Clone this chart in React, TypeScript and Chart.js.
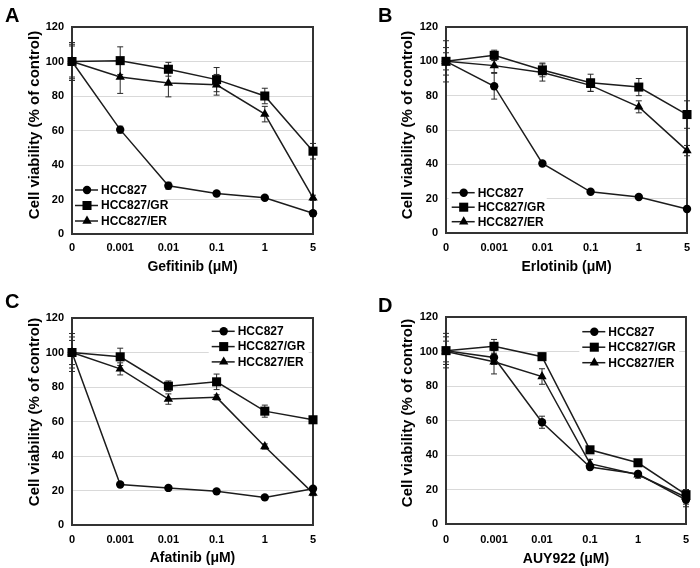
import React, { useEffect, useRef } from 'react';
import { Chart, registerables } from 'chart.js';

Chart.register(...registerables);

const FONT = '"Liberation Sans", Arial, Helvetica, sans-serif';
Chart.defaults.font.family = FONT;

// ---------- data ----------
const xLabels = ['0', '0.001', '0.01', '0.1', '1', '5'];
const seriesNames = ['HCC827', 'HCC827/GR', 'HCC827/ER'];

// A: Gefitinib
const gefHCC = [100, 60.5, 28, 23.5, 21, 12];
const gefHCCErr = [10, 2, 2, 1, 1, 1.5];
const gefGR = [100, 100.5, 95.5, 89.5, 80, 48];
const gefGRErr = [11, 8, 4, 7, 4.5, 4.5];
const gefER = [100, 91, 87.5, 86.5, 69.5, 21];
const gefERErr = [9, 9.5, 8, 6, 4.5, 1.5];

// B: Erlotinib
const erlHCC = [100, 85.5, 40.5, 24, 21, 14];
const erlHCCErr = [12, 7.5, 1, 1, 1, 1.5];
const erlGR = [100, 103.5, 95, 87.5, 85, 69];
const erlGRErr = [5, 3, 4, 5, 5, 8];
const erlER = [100, 97.5, 93.5, 86, 73.5, 48];
const erlERErr = [8, 4, 5, 3.5, 3.5, 3];

// C: Afatinib
const afaHCC = [100, 23.5, 21.5, 19.5, 16, 21];
const afaHCCErr = [11, 1, 1, 1, 1, 1];
const afaGR = [100, 97.5, 80.5, 83, 66, 61];
const afaGRErr = [9, 5, 3, 4.5, 3.5, 1.5];
const afaER = [100, 90.5, 73, 74, 45.5, 18.5];
const afaERErr = [7, 3.5, 3, 1.5, 1.5, 1.5];

// D: AUY922
const auyHCC = [100.5, 96.5, 59, 33, 29, 14];
const auyHCCErr = [10, 4, 3.5, 1.5, 1.5, 4];
const auyGR = [100.5, 103, 97, 43, 35.5, 17];
const auyGRErr = [8, 4, 2, 1, 1, 3];
const auyER = [100, 94, 85.5, 35, 28.5, 15.5];
const auyERErr = [6, 7, 4.5, 2.5, 2, 4];

const yTitle = 'Cell viability (% of control)';

// ---------- styles ----------
const LINE = '#1c1c1c';
const MARK = '#000000';
const GRID = '#d9d9d9';
const FRAME = '#333333';
const pointStyles = ['circle', 'rect', 'triangle'] as const;
const pointRadii = [4.2, 6.4, 5.4];

type Panel = {
  letter: string;
  left: number;
  top: number;
  drug: string;
  values: number[][];
  errors: number[][];
  yW: number;
  padR: number;
  padT: number;
  xH: number;
  tickPad: number;
  titlePad: number;
  yTitleX: number;
  yTitleY: number;
  legX: number;
  legY: number;
  legGap: number;
  legW: number;
  letterLeft: number;
  letterTop: number;
};

const panels: Panel[] = [
  {
    letter: 'A', left: 0, top: 0, drug: 'Gefitinib',
    values: [gefHCC, gefGR, gefER], errors: [gefHCCErr, gefGRErr, gefERErr],
    yW: 72, padR: 37, padT: 27, xH: 50, tickPad: 7.4, titlePad: 8.6,
    yTitleX: 35, yTitleY: 125, legX: 75, legY: 190, legGap: 15.5, legW: 92,
    letterLeft: 5, letterTop: 5,
  },
  {
    letter: 'B', left: 350, top: 0, drug: 'Erlotinib',
    values: [erlHCC, erlGR, erlER], errors: [erlHCCErr, erlGRErr, erlERErr],
    yW: 96, padR: 13, padT: 27, xH: 51, tickPad: 8.7, titlePad: 8.9,
    yTitleX: 58, yTitleY: 125, legX: 101.7, legY: 192.7, legGap: 14.5, legW: 98,
    letterLeft: 378, letterTop: 5,
  },
  {
    letter: 'C', left: 0, top: 284, drug: 'Afatinib',
    values: [afaHCC, afaGR, afaER], errors: [afaHCCErr, afaGRErr, afaERErr],
    yW: 72, padR: 37, padT: 34, xH: 43, tickPad: 8.4, titlePad: 1.6,
    yTitleX: 35, yTitleY: 128, legX: 211.7, legY: 47.3, legGap: 15.3, legW: 100,
    letterLeft: 5, letterTop: 291,
  },
  {
    letter: 'D', left: 350, top: 284, drug: 'AUY922',
    values: [auyHCC, auyGR, auyER], errors: [auyHCCErr, auyGRErr, auyERErr],
    yW: 96, padR: 14, padT: 33, xH: 44, tickPad: 9.4, titlePad: 0,
    yTitleX: 58, yTitleY: 129, legX: 232.3, legY: 47.7, legGap: 15.5, legW: 100,
    letterLeft: 378, letterTop: 294.5,
  },
];

function drawMarker(ctx: CanvasRenderingContext2D, style: string, r: number, x: number, y: number) {
  ctx.beginPath();
  if (style === 'circle') {
    ctx.arc(x, y, r, 0, Math.PI * 2);
  } else if (style === 'rect') {
    const s = r * Math.SQRT1_2;
    ctx.rect(x - s, y - s, 2 * s, 2 * s);
  } else {
    let rad = 0;
    ctx.moveTo(x + Math.sin(rad) * r, y - Math.cos(rad) * r);
    rad += (2 * Math.PI) / 3;
    ctx.lineTo(x + Math.sin(rad) * r, y - Math.cos(rad) * r);
    rad += (2 * Math.PI) / 3;
    ctx.lineTo(x + Math.sin(rad) * r, y - Math.cos(rad) * r);
    ctx.closePath();
  }
  ctx.fill();
}

function makePlugin(p: Panel) {
  return {
    id: 'panelExtras' + p.letter,
    beforeDatasetsDraw(chart: any) {
      const ctx: CanvasRenderingContext2D = chart.ctx;
      const xs = chart.scales.x;
      const ys = chart.scales.y;
      const a = chart.chartArea;
      ctx.save();
      // legend background (under the data lines)
      ctx.fillStyle = '#ffffff';
      ctx.fillRect(p.legX - 3, p.legY - 9, p.legW, p.legGap * 2 + 18);
      // frame
      ctx.strokeStyle = FRAME;
      ctx.lineWidth = 2;
      ctx.strokeRect(a.left, a.top, a.right - a.left, a.bottom - a.top);
      // error bars
      ctx.strokeStyle = '#2a2a2a';
      ctx.lineWidth = 1;
      p.errors.forEach((errs, di) => {
        p.values[di].forEach((v, i) => {
          const e = errs[i];
          if (!e) return;
          const x = xs.getPixelForValue(i);
          const y1 = ys.getPixelForValue(v + e);
          const y2 = ys.getPixelForValue(v - e);
          ctx.beginPath();
          ctx.moveTo(x, y1);
          ctx.lineTo(x, y2);
          ctx.moveTo(x - 3, y1);
          ctx.lineTo(x + 3, y1);
          ctx.moveTo(x - 3, y2);
          ctx.lineTo(x + 3, y2);
          ctx.stroke();
        });
      });
      ctx.restore();
    },
    afterDraw(chart: any) {
      const ctx: CanvasRenderingContext2D = chart.ctx;
      ctx.save();
      // y title
      ctx.translate(p.yTitleX, p.yTitleY);
      ctx.rotate(-Math.PI / 2);
      ctx.font = `bold 15px ${FONT}`;
      ctx.fillStyle = '#000';
      ctx.textAlign = 'center';
      ctx.textBaseline = 'middle';
      ctx.fillText(yTitle, 0, 0);
      ctx.restore();

      // legend entries
      ctx.save();
      ctx.font = `bold 12px ${FONT}`;
      ctx.textAlign = 'left';
      ctx.textBaseline = 'middle';
      seriesNames.forEach((name, i) => {
        const y = p.legY + i * p.legGap;
        ctx.strokeStyle = LINE;
        ctx.lineWidth = 1.5;
        ctx.beginPath();
        ctx.moveTo(p.legX, y);
        ctx.lineTo(p.legX + 23, y);
        ctx.stroke();
        ctx.fillStyle = MARK;
        drawMarker(ctx, pointStyles[i], pointRadii[i], p.legX + 12, y);
        ctx.fillStyle = '#000';
        ctx.fillText(name, p.legX + 26, y + 0.5);
      });
      ctx.restore();
    },
  };
}

function PanelChart({ p }: { p: Panel }) {
  const ref = useRef<HTMLCanvasElement>(null);
  useEffect(() => {
    const canvas = ref.current;
    if (!canvas) return;
    const chart = new Chart(canvas, {
      type: 'line',
      data: {
        labels: xLabels,
        datasets: p.values.map((vals, i) => ({
          label: seriesNames[i],
          data: vals,
          borderColor: LINE,
          backgroundColor: MARK,
          borderWidth: 1.5,
          pointStyle: pointStyles[i],
          pointRadius: pointRadii[i],
          pointHoverRadius: pointRadii[i],
          pointBackgroundColor: MARK,
          pointBorderColor: MARK,
          pointBorderWidth: 0,
          tension: 0,
          clip: false as any,
        })),
      },
      options: {
        animation: false,
        responsive: false,
        devicePixelRatio: 1,
        events: [],
        layout: { padding: { left: 0, right: p.padR, top: p.padT, bottom: 0 } },
        plugins: {
          legend: { display: false },
          tooltip: { enabled: false },
          title: { display: false },
        },
        scales: {
          x: {
            type: 'category',
            offset: false,
            grid: { display: false, drawTicks: false },
            border: { display: false },
            ticks: {
              color: '#000',
              padding: p.tickPad,
              autoSkip: false,
              maxRotation: 0,
              font: { size: 11, weight: 'bold', family: FONT },
            },
            title: {
              display: true,
              text: `${p.drug} (μM)`,
              color: '#000',
              font: { size: 14, weight: 'bold', family: FONT },
              padding: { top: 0, bottom: p.titlePad },
            },
            afterFit: (s: any) => {
              s.height = p.xH;
              s.paddingLeft = 0;
              s.paddingRight = 0;
              s.paddingTop = 0;
              s.paddingBottom = 0;
            },
          },
          y: {
            type: 'linear',
            min: 0,
            max: 120,
            grid: {
              drawTicks: false,
              color: (c: any) =>
                c.tick && (c.tick.value === 0 || c.tick.value === 120) ? 'rgba(0,0,0,0)' : GRID,
              lineWidth: 1,
            },
            border: { display: false },
            ticks: {
              stepSize: 20,
              color: '#000',
              padding: 8,
              font: { size: 11, weight: 'bold', family: FONT },
            },
            afterFit: (s: any) => {
              s.width = p.yW;
              s.paddingLeft = 0;
              s.paddingRight = 0;
              s.paddingTop = 0;
              s.paddingBottom = 0;
            },
          },
        },
      } as any,
      plugins: [makePlugin(p)],
    });
    return () => chart.destroy();
  }, [p]);
  return (
    <canvas
      ref={ref}
      width={350}
      height={284}
      style={{ position: 'absolute', left: p.left, top: p.top, width: 350, height: 284 }}
    />
  );
}

export default function App() {
  return (
    <div
      style={{
        position: 'absolute',
        left: 0,
        top: 0,
        width: 700,
        height: 568,
        background: '#ffffff',
        overflow: 'hidden',
        fontFamily: FONT,
      }}
    >
      {panels.map((p) => (
        <PanelChart key={p.letter} p={p} />
      ))}
      {panels.map((p) => (
        <div
          key={'L' + p.letter}
          style={{
            position: 'absolute',
            left: p.letterLeft,
            top: p.letterTop,
            fontSize: 20,
            lineHeight: '20px',
            fontWeight: 'bold',
            color: '#000',
          }}
        >
          {p.letter}
        </div>
      ))}
    </div>
  );
}
